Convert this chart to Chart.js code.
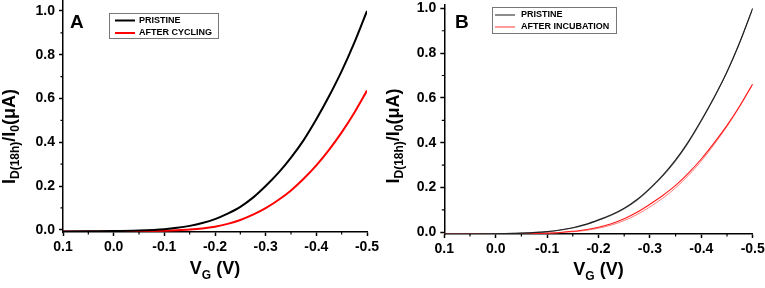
<!DOCTYPE html>
<html>
<head>
<meta charset="utf-8">
<script src="https://cdn.jsdelivr.net/npm/chart.js@4.4.0/dist/chart.umd.min.js"></script>
<style>
    html, body { margin: 0; padding: 0; background: #fff; }
    #wrap { position: relative; width: 765px; height: 288px; overflow: hidden; }
    canvas { position: absolute; top: 0; }
</style>
</head>
<body>
<div id="wrap">
    <canvas id="chartA" width="382" height="288" style="left:0"></canvas>
    <canvas id="chartB" width="383" height="288" style="left:382px"></canvas>
</div>
<script>
(function () {
    "use strict";

    // gate voltage samples (V)
    const vg = [0.1, 0.05, 0, -0.05, -0.1, -0.125, -0.15, -0.175, -0.2, -0.225, -0.25, -0.275,
        -0.3, -0.325, -0.35, -0.375, -0.4, -0.425, -0.45, -0.475, -0.5];

    // panel A
    const pristineA = [-0.008, -0.007, -0.006, -0.003, 0.003, 0.009, 0.018, 0.031, 0.049, 0.074, 0.105, 0.147,
        0.2, 0.26, 0.33, 0.41, 0.505, 0.61, 0.725, 0.855, 1.0];
    const cyclingA = [-0.008, -0.008, -0.007, -0.006, -0.004, -0.002, 0.001, 0.006, 0.014, 0.027, 0.045, 0.069,
        0.099, 0.136, 0.18, 0.233, 0.294, 0.365, 0.445, 0.535, 0.636];

    // panel B (two overlapping traces per condition)
    const pristineB1 = [-0.008, -0.008, -0.007, -0.004, 0.003, 0.01, 0.02, 0.035, 0.055, 0.078, 0.107, 0.146,
        0.196, 0.254, 0.323, 0.405, 0.5, 0.603, 0.717, 0.85, 1.0];
    const pristineB2 = [-0.008, -0.008, -0.007, -0.004, 0.002, 0.009, 0.019, 0.033, 0.053, 0.075, 0.104, 0.142,
        0.192, 0.25, 0.318, 0.4, 0.496, 0.6, 0.715, 0.848, 1.0];
    const incubB1 = [-0.008, -0.008, -0.008, -0.008, -0.004, -0.001, 0.004, 0.011, 0.022, 0.038, 0.06, 0.089,
        0.125, 0.164, 0.209, 0.264, 0.327, 0.399, 0.477, 0.565, 0.662];
    const incubB2 = [-0.008, -0.008, -0.008, -0.008, -0.005, -0.002, 0.002, 0.008, 0.018, 0.032, 0.052, 0.079,
        0.113, 0.152, 0.198, 0.254, 0.318, 0.392, 0.472, 0.562, 0.66];

    const xMajorTicks = [0.1, 0, -0.1, -0.2, -0.3, -0.4, -0.5];
    const xMinorTicks = [0.05, -0.05, -0.15, -0.25, -0.35, -0.45];
    const yMajorTicks = [0, 0.2, 0.4, 0.6, 0.8, 1.0];
    const yMinorTicks = [0.1, 0.3, 0.5, 0.7, 0.9];

    const FONT = "'Liberation Sans', Arial, sans-serif";

    function points(ys) {
        return vg.map((x, i) => ({ x: x, y: ys[i] }));
    }

    function fmt(v) {
        return Math.abs(v) < 1e-9 ? "0.0" : v.toFixed(1);
    }

    // draw text runs (text, size, baseline shift) centred on x
    function drawRuns(ctx, runs, x, y) {
        let total = 0;
        runs.forEach((r) => {
            ctx.font = "bold " + r[1] + "px " + FONT;
            total += ctx.measureText(r[0]).width;
        });
        let cx = x - total / 2;
        runs.forEach((r) => {
            ctx.font = "bold " + r[1] + "px " + FONT;
            ctx.fillText(r[0], cx, y + r[2]);
            cx += ctx.measureText(r[0]).width;
        });
    }

    const panelDecor = {
        id: "panelDecor",
        afterDraw(chart, args, o) {
            const ctx = chart.ctx;
            const area = chart.chartArea;
            const xs = chart.scales.x;
            const ys = chart.scales.y;
            ctx.save();

            // minor ticks
            ctx.strokeStyle = "#000";
            ctx.lineWidth = 1.2;
            ctx.beginPath();
            xMinorTicks.forEach((v) => {
                const px = xs.getPixelForValue(v);
                ctx.moveTo(px, area.bottom);
                ctx.lineTo(px, area.bottom + 2.5);
            });
            yMinorTicks.forEach((v) => {
                const py = ys.getPixelForValue(v);
                ctx.moveTo(area.left, py);
                ctx.lineTo(area.left - 2.5, py);
            });
            ctx.stroke();

            ctx.fillStyle = "#000";
            ctx.textBaseline = "alphabetic";

            // panel letter
            ctx.font = "bold " + o.letterSize + "px " + FONT;
            ctx.fillText(o.letter, o.letterX, o.letterY);

            // x title
            drawRuns(ctx, [["V", 18, 0], ["G", 12, 5], [" (V)", 18, 0]],
                (area.left + area.right) / 2, o.xTitleY);

            // y title
            ctx.save();
            ctx.translate(o.yTitleX, o.yTitleY);
            ctx.rotate(-Math.PI / 2);
            drawRuns(ctx, [["I", 18, 0], ["D(18h)", 12, 4], ["/I", 18, 0], ["0", 12, 4], ["(\u03bcA)", 18, 0]], 0, 0);
            ctx.restore();

            // legend box
            const lg = o.legend;
            ctx.strokeStyle = "#777";
            ctx.lineWidth = 1;
            ctx.strokeRect(lg.x + 0.5, lg.y + 0.5, lg.w, lg.h);
            ctx.font = "bold 9px " + FONT;
            ctx.textBaseline = "middle";
            let row = 0;
            chart.data.datasets.forEach((ds) => {
                if (ds.inLegend === false) return;
                const yy = lg.y + lg.rowStart + row * lg.rowGap;
                ctx.strokeStyle = ds.legendColor || ds.borderColor;
                ctx.lineWidth = ds.legendWidth || ds.borderWidth;
                ctx.beginPath();
                ctx.moveTo(lg.lineX, yy);
                ctx.lineTo(lg.lineX + 20, yy);
                ctx.stroke();
                ctx.fillStyle = "#000";
                ctx.fillText(ds.label, lg.textX, yy);
                row++;
            });

            ctx.restore();
        },
    };

    function makeChart(id, datasets, cfg) {
        return new Chart(document.getElementById(id), {
            type: "line",
            data: { datasets: datasets },
            options: {
                responsive: false,
                animation: false,
                devicePixelRatio: 1,
                layout: {
                    autoPadding: false,
                    padding: { left: 0, right: cfg.padRight, top: cfg.padTop, bottom: 0 },
                },
                elements: {
                    point: { radius: 0 },
                    line: { cubicInterpolationMode: "monotone" },
                },
                plugins: {
                    legend: { display: false },
                    tooltip: { enabled: false },
                    panelDecor: cfg.decor,
                },
                scales: {
                    x: {
                        type: "linear",
                        reverse: true,
                        min: -0.5,
                        max: 0.1,
                        afterBuildTicks: (s) => {
                            s.ticks = xMajorTicks.map((v) => ({ value: v }));
                        },
                        afterFit: (s) => {
                            s.height = cfg.xHeight;
                            s.paddingLeft = 0;
                            s.paddingRight = 0;
                        },
                        ticks: {
                            callback: (v) => fmt(v),
                            color: "#000",
                            font: { family: FONT, size: 14, weight: "bold" },
                            padding: 3,
                            maxRotation: 0,
                            autoSkip: false,
                        },
                        grid: {
                            drawOnChartArea: false,
                            drawTicks: true,
                            tickLength: 4,
                            tickWidth: 1.5,
                            tickColor: "#000",
                        },
                        border: { color: "#000", width: 1.5 },
                    },
                    y: {
                        type: "linear",
                        min: cfg.yMin,
                        max: cfg.yMax,
                        afterBuildTicks: (s) => {
                            s.ticks = yMajorTicks.map((v) => ({ value: v }));
                        },
                        afterFit: (s) => {
                            s.width = cfg.yWidth;
                            s.paddingTop = 0;
                            s.paddingBottom = 0;
                        },
                        ticks: {
                            callback: (v) => fmt(v),
                            color: "#000",
                            font: { family: FONT, size: 14, weight: "bold" },
                            padding: 4,
                        },
                        grid: {
                            drawOnChartArea: false,
                            drawTicks: true,
                            tickLength: 4,
                            tickWidth: 1.5,
                            tickColor: "#000",
                        },
                        border: { color: "#000", width: 1.5 },
                    },
                },
            },
            plugins: [panelDecor],
        });
    }

    makeChart("chartA", [
        { label: "PRISTINE", data: points(pristineA), borderColor: "#000000", borderWidth: 2 },
        { label: "AFTER CYCLING", data: points(cyclingA), borderColor: "#ff0000", borderWidth: 2 },
    ], {
        padRight: 15, padTop: 0, xHeight: 56, yWidth: 63, yMin: -0.01, yMax: 1.05,
        decor: {
            letter: "A", letterSize: 19, letterX: 70, letterY: 28,
            xTitleY: 274, yTitleX: 15, yTitleY: 136.5,
            legend: { x: 109, y: 13, w: 109, h: 25, rowStart: 7.5, rowGap: 12.5, lineX: 115, textX: 139 },
        },
    });

    makeChart("chartB", [
        { label: "PRISTINE", data: points(pristineB1), borderColor: "#222222", borderWidth: 1.2, legendColor: "#666666", legendWidth: 1.5 },
        { label: "PRISTINE", data: points(pristineB2), borderColor: "rgba(90,90,90,0.8)", borderWidth: 1, inLegend: false },
        { label: "AFTER INCUBATION", data: points(incubB1), borderColor: "#ff1a1a", borderWidth: 1.1, legendColor: "#ff7a7a", legendWidth: 1.5 },
        { label: "AFTER INCUBATION", data: points(incubB2), borderColor: "rgba(255,90,90,0.8)", borderWidth: 1, inLegend: false },
    ], {
        padRight: 12.3, padTop: 5, xHeight: 54, yWidth: 62.3, yMin: -0.008, yMax: 1.015,
        decor: {
            letter: "B", letterSize: 19, letterX: 73, letterY: 28,
            xTitleY: 275, yTitleX: 17, yTitleY: 136,
            legend: { x: 110, y: 7, w: 124, h: 26, rowStart: 8, rowGap: 12, lineX: 113, textX: 139 },
        },
    });
})();
</script>
</body>
</html>
